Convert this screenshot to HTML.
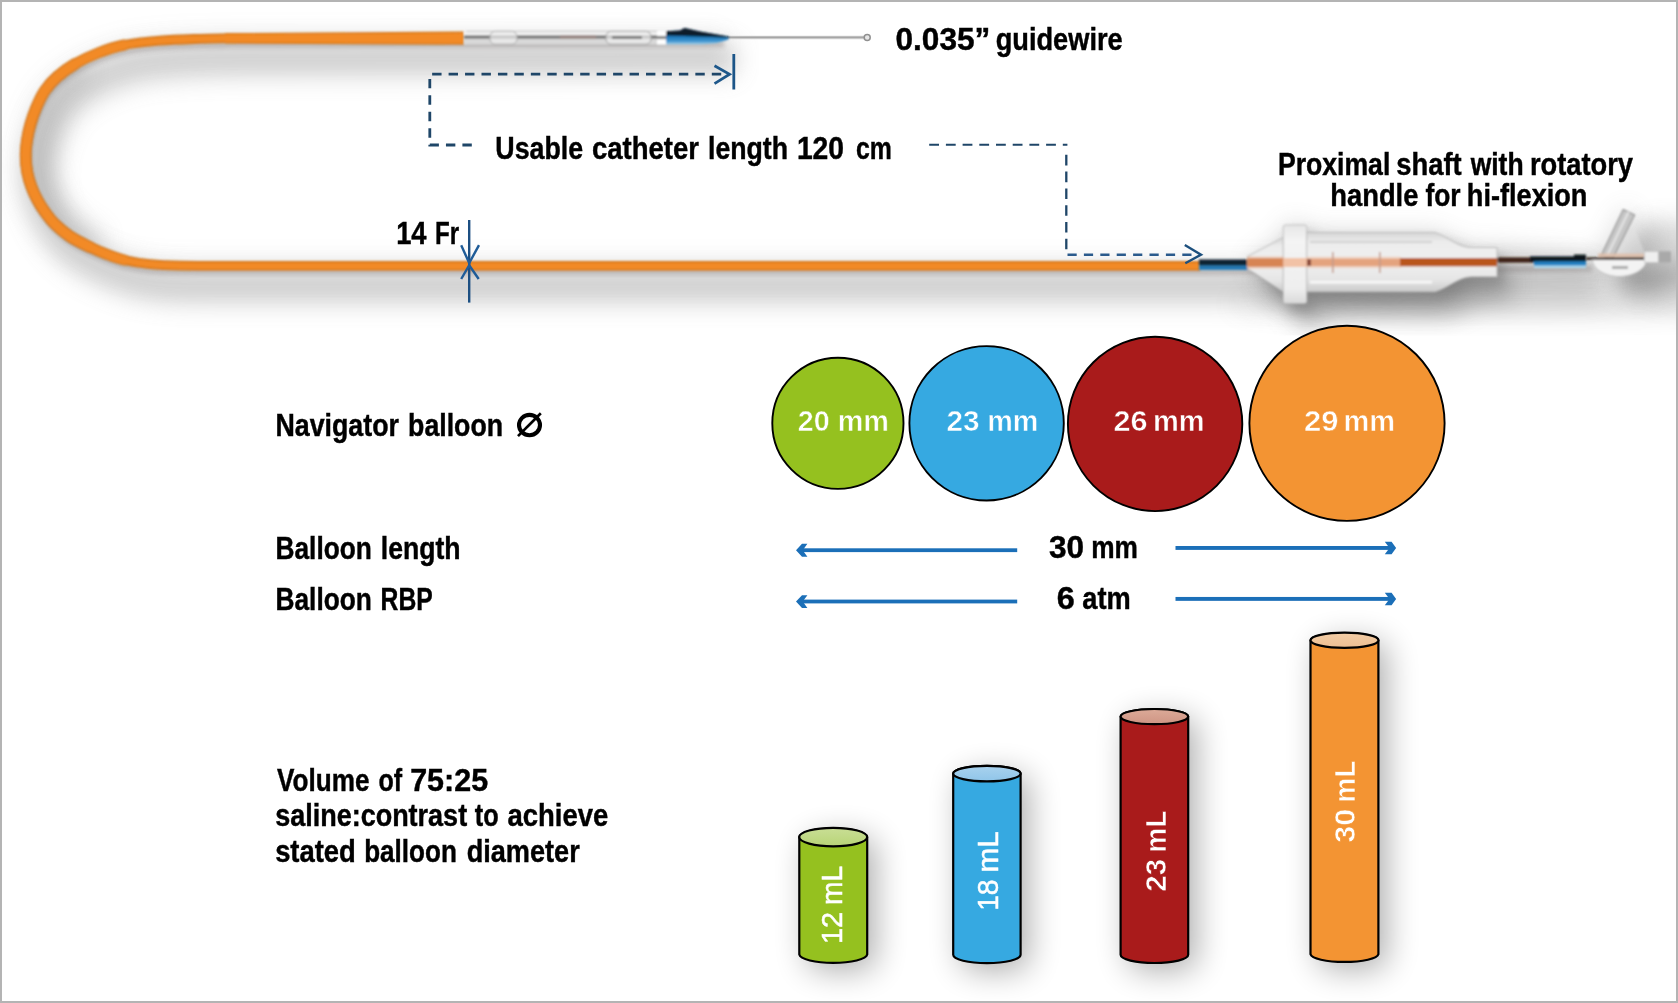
<!DOCTYPE html>
<html>
<head>
<meta charset="utf-8">
<title>Navigator catheter</title>
<style>
html,body{margin:0;padding:0;background:#fff;}
body{width:1678px;height:1003px;overflow:hidden;font-family:"Liberation Sans",sans-serif;}
svg{display:block;position:absolute;left:0;top:0;}
.lbl{font-family:"Liberation Sans",sans-serif;font-weight:bold;font-size:32px;fill:#000;stroke:#000;stroke-width:0.45px;}
.wt{font-family:"Liberation Sans",sans-serif;font-weight:bold;fill:#fff;}
</style>
</head>
<body>
<svg width="1678" height="1003" viewBox="0 0 1678 1003">
<defs>
<filter id="b12" filterUnits="userSpaceOnUse" x="-40" y="-40" width="1780" height="460"><feGaussianBlur stdDeviation="12"/></filter>
<filter id="b8" x="-20%" y="-50%" width="140%" height="200%"><feGaussianBlur stdDeviation="8"/></filter>
<filter id="b5" filterUnits="userSpaceOnUse" x="-40" y="-40" width="1780" height="460"><feGaussianBlur stdDeviation="6"/></filter>
<filter id="b13" x="-120%" y="-50%" width="340%" height="200%"><feGaussianBlur stdDeviation="16"/></filter>
<filter id="b1" filterUnits="userSpaceOnUse" x="0" y="0" width="1678" height="340"><feGaussianBlur stdDeviation="0.8"/></filter>
<filter id="b2" filterUnits="userSpaceOnUse" x="0" y="0" width="1678" height="340"><feGaussianBlur stdDeviation="2.2"/></filter>
<linearGradient id="cg0" x1="0" y1="0" x2="0" y2="1"><stop offset="0" stop-color="#c9de95"/><stop offset="1" stop-color="#b8d477"/></linearGradient>
<linearGradient id="cg1" x1="0" y1="0" x2="0" y2="1"><stop offset="0" stop-color="#a9d2ee"/><stop offset="1" stop-color="#8fc5e9"/></linearGradient>
<linearGradient id="cg2" x1="0" y1="0" x2="0" y2="1"><stop offset="0" stop-color="#dcaa98"/><stop offset="1" stop-color="#cf9584"/></linearGradient>
<linearGradient id="cg3" x1="0" y1="0" x2="0" y2="1"><stop offset="0" stop-color="#f3cda6"/><stop offset="1" stop-color="#edbf92"/></linearGradient>
<linearGradient id="tipg" x1="0" y1="0" x2="0" y2="1"><stop offset="0" stop-color="#0f3a5c"/><stop offset="0.5" stop-color="#1a74b6"/><stop offset="0.8" stop-color="#3c94cf"/><stop offset="1" stop-color="#9fcfea"/></linearGradient>
<linearGradient id="bodyg" x1="0" y1="0" x2="0" y2="1"><stop offset="0" stop-color="#d6d6d6"/><stop offset="0.16" stop-color="#ececec"/><stop offset="0.5" stop-color="#f0f0f0"/><stop offset="0.8" stop-color="#e5e5e5"/><stop offset="1" stop-color="#cbcbcb"/></linearGradient>
<linearGradient id="bodyg2" x1="0" y1="0" x2="0" y2="1"><stop offset="0" stop-color="#e6e6e6"/><stop offset="0.2" stop-color="#f4f4f4"/><stop offset="0.8" stop-color="#efefef"/><stop offset="1" stop-color="#dadada"/></linearGradient>
</defs>
<rect x="0" y="0" width="1678" height="1003" fill="#fff"/>

<!-- ===== photo shadows ===== -->
<g id="shadows">
<clipPath id="photoclip"><rect x="2" y="2" width="1674" height="333.6"/></clipPath>
<g clip-path="url(#photoclip)">
<path d="M722 37.8L230.0 38.3C225.0 38.4 211.7 38.4 200.0 38.8C188.3 39.2 172.6 39.6 160.0 40.6C147.4 41.6 134.5 42.9 124.2 45.0C113.9 47.1 106.2 49.8 98.0 53.0C89.8 56.2 81.6 60.1 74.8 64.1C68.0 68.1 62.0 72.6 57.0 77.0C52.0 81.4 48.4 85.5 45.0 90.5C41.6 95.5 38.9 101.4 36.5 107.0C34.1 112.6 32.1 118.5 30.5 124.0C28.9 129.5 27.8 134.8 27.0 140.0C26.2 145.2 25.7 149.7 25.7 155.0C25.7 160.3 26.2 166.7 27.2 172.0C28.2 177.3 29.8 182.4 31.5 187.0C33.2 191.6 35.1 195.6 37.4 199.8C39.6 204.0 42.1 208.0 45.0 212.0C47.9 216.0 50.4 219.7 54.6 223.8C58.8 227.9 64.1 232.6 70.0 236.5C75.9 240.4 83.8 244.1 89.8 247.0C95.8 249.9 100.3 251.8 106.0 254.0C111.7 256.2 116.9 258.3 124.2 260.0C131.5 261.7 140.3 263.3 149.6 264.2C158.9 265.1 169.9 265.1 180.0 265.3C190.1 265.5 205.0 265.4 210.0 265.4L1200 265.4L1590 262" fill="none" stroke="#8c8c8c" stroke-width="26" opacity="0.08" filter="url(#b12)" transform="translate(2,6)"/>
<path d="M722 37.8L230.0 38.3C225.0 38.4 211.7 38.4 200.0 38.8C188.3 39.2 172.6 39.6 160.0 40.6C147.4 41.6 134.5 42.9 124.2 45.0C113.9 47.1 106.2 49.8 98.0 53.0C89.8 56.2 81.6 60.1 74.8 64.1C68.0 68.1 62.0 72.6 57.0 77.0C52.0 81.4 48.4 85.5 45.0 90.5C41.6 95.5 38.9 101.4 36.5 107.0C34.1 112.6 32.1 118.5 30.5 124.0C28.9 129.5 27.8 134.8 27.0 140.0C26.2 145.2 25.7 149.7 25.7 155.0C25.7 160.3 26.2 166.7 27.2 172.0C28.2 177.3 29.8 182.4 31.5 187.0C33.2 191.6 35.1 195.6 37.4 199.8C39.6 204.0 42.1 208.0 45.0 212.0C47.9 216.0 50.4 219.7 54.6 223.8C58.8 227.9 64.1 232.6 70.0 236.5C75.9 240.4 83.8 244.1 89.8 247.0C95.8 249.9 100.3 251.8 106.0 254.0C111.7 256.2 116.9 258.3 124.2 260.0C131.5 261.7 140.3 263.3 149.6 264.2C158.9 265.1 169.9 265.1 180.0 265.3C190.1 265.5 205.0 265.4 210.0 265.4L1200 265.4L1590 262" fill="none" stroke="#8a8a8a" stroke-width="32" opacity="0.4" filter="url(#b12)" transform="translate(13,21)"/>
<path d="M722 37.8L230.0 38.3C225.0 38.4 211.7 38.4 200.0 38.8C188.3 39.2 172.6 39.6 160.0 40.6C147.4 41.6 134.5 42.9 124.2 45.0C113.9 47.1 106.2 49.8 98.0 53.0C89.8 56.2 81.6 60.1 74.8 64.1C68.0 68.1 62.0 72.6 57.0 77.0C52.0 81.4 48.4 85.5 45.0 90.5C41.6 95.5 38.9 101.4 36.5 107.0C34.1 112.6 32.1 118.5 30.5 124.0C28.9 129.5 27.8 134.8 27.0 140.0C26.2 145.2 25.7 149.7 25.7 155.0C25.7 160.3 26.2 166.7 27.2 172.0C28.2 177.3 29.8 182.4 31.5 187.0C33.2 191.6 35.1 195.6 37.4 199.8C39.6 204.0 42.1 208.0 45.0 212.0C47.9 216.0 50.4 219.7 54.6 223.8C58.8 227.9 64.1 232.6 70.0 236.5C75.9 240.4 83.8 244.1 89.8 247.0C95.8 249.9 100.3 251.8 106.0 254.0C111.7 256.2 116.9 258.3 124.2 260.0C131.5 261.7 140.3 263.3 149.6 264.2C158.9 265.1 169.9 265.1 180.0 265.3C190.1 265.5 205.0 265.4 210.0 265.4L1200 265.4L1590 262" fill="none" stroke="#6e6464" stroke-width="6" opacity="0.3" filter="url(#b2)" transform="translate(2,6.5)"/>
<path d="M1247.5 262 L1283.3 237.5 L1283.3 225 L1306.7 225 L1306.7 232.5 L1435 232.5 C1450 238 1458 247.5 1471.7 247.5 L1497 247.5 L1497 276.7 L1471.7 276.7 C1458 277 1450 287 1435 291.7 L1306.7 291.7 L1306.7 303.3 L1283.3 303.3 L1283.3 291.7 Z" fill="#6e6e6e" opacity="0.55" filter="url(#b12)" transform="translate(14,22)"/>
<path d="M1247.5 262 L1283.3 237.5 L1283.3 225 L1306.7 225 L1306.7 232.5 L1435 232.5 C1450 238 1458 247.5 1471.7 247.5 L1497 247.5 L1497 276.7 L1471.7 276.7 C1458 277 1450 287 1435 291.7 L1306.7 291.7 L1306.7 303.3 L1283.3 303.3 L1283.3 291.7 Z" fill="#6e6e6e" opacity="0.4" filter="url(#b5)" transform="translate(6,8)"/>
<path d="M1590 256 L1601 256 L1623.5 208.5 L1635 214 L1618 250 L1671 251 L1671 263 L1647 263 C1646 270 1632 276.5 1619 276.5 C1606 276.5 1593 270 1592 262 Z" fill="#6e6e6e" opacity="0.75" filter="url(#b12)" transform="translate(20,18)"/>
<path d="M1247.5 262 L1283.3 237.5 L1283.3 225 L1306.7 225 L1306.7 232.5 L1435 232.5 C1450 238 1458 247.5 1471.7 247.5 L1497 247.5 L1590 256 L1601 256 L1623.5 208.5 L1635 214 L1618 250 L1671 251 L1671 263 L1647 263 L1619 276.5 L1497 276.7 L1435 291.7 L1306.7 303.3 L1283.3 303.3 Z" fill="#7a7a7a" opacity="0.3" filter="url(#b12)"/>
<clipPath id="loopclip"><path d="M464 37.8L230.0 38.3C225.0 38.4 211.7 38.4 200.0 38.8C188.3 39.2 172.6 39.6 160.0 40.6C147.4 41.6 134.5 42.9 124.2 45.0C113.9 47.1 106.2 49.8 98.0 53.0C89.8 56.2 81.6 60.1 74.8 64.1C68.0 68.1 62.0 72.6 57.0 77.0C52.0 81.4 48.4 85.5 45.0 90.5C41.6 95.5 38.9 101.4 36.5 107.0C34.1 112.6 32.1 118.5 30.5 124.0C28.9 129.5 27.8 134.8 27.0 140.0C26.2 145.2 25.7 149.7 25.7 155.0C25.7 160.3 26.2 166.7 27.2 172.0C28.2 177.3 29.8 182.4 31.5 187.0C33.2 191.6 35.1 195.6 37.4 199.8C39.6 204.0 42.1 208.0 45.0 212.0C47.9 216.0 50.4 219.7 54.6 223.8C58.8 227.9 64.1 232.6 70.0 236.5C75.9 240.4 83.8 244.1 89.8 247.0C95.8 249.9 100.3 251.8 106.0 254.0C111.7 256.2 116.9 258.3 124.2 260.0C131.5 261.7 140.3 263.3 149.6 264.2C158.9 265.1 169.9 265.5 180.0 265.7C190.1 265.9 205.0 265.8 210.0 265.8L464 265.8Z"/></clipPath>
<g clip-path="url(#loopclip)"><path d="M74.8 64.1C68.0 68.1 62.0 72.6 57.0 77.0C52.0 81.4 48.4 85.5 45.0 90.5C41.6 95.5 38.9 101.4 36.5 107.0C34.1 112.6 32.1 118.5 30.5 124.0C28.9 129.5 27.8 134.8 27.0 140.0C26.2 145.2 25.7 149.7 25.7 155.0C25.7 160.3 26.2 166.7 27.2 172.0C28.2 177.3 29.8 182.4 31.5 187.0C33.2 191.6 35.1 195.6 37.4 199.8C39.6 204.0 42.1 208.0 45.0 212.0C47.9 216.0 50.4 219.7 54.6 223.8C58.8 227.9 64.1 232.6 70.0 236.5C75.9 240.4 83.8 244.1 89.8 247.0" fill="none" stroke="#8a8a8a" stroke-width="30" opacity="0.3" filter="url(#b12)" transform="translate(8,0)"/></g>
<ellipse cx="1500" cy="304" rx="270" ry="10" fill="#808080" opacity="0.32" filter="url(#b12)"/>
<rect x="1646" y="222" width="50" height="78" fill="#808080" opacity="0.3" filter="url(#b12)"/>
</g>
</g>

<!-- ===== catheter tube ===== -->
<g id="tube" filter="url(#b1)">
<path d="M464 37.8L230.0 38.3C225.0 38.4 211.7 38.4 200.0 38.8C188.3 39.2 172.6 39.6 160.0 40.6C147.4 41.6 134.5 42.9 124.2 45.0C113.9 47.1 106.2 49.8 98.0 53.0C89.8 56.2 81.6 60.1 74.8 64.1C68.0 68.1 62.0 72.6 57.0 77.0C52.0 81.4 48.4 85.5 45.0 90.5C41.6 95.5 38.9 101.4 36.5 107.0C34.1 112.6 32.1 118.5 30.5 124.0C28.9 129.5 27.8 134.8 27.0 140.0C26.2 145.2 25.7 149.7 25.7 155.0C25.7 160.3 26.2 166.7 27.2 172.0C28.2 177.3 29.8 182.4 31.5 187.0C33.2 191.6 35.1 195.6 37.4 199.8C39.6 204.0 42.1 208.0 45.0 212.0C47.9 216.0 50.4 219.7 54.6 223.8C58.8 227.9 64.1 232.6 70.0 236.5C75.9 240.4 83.8 244.1 89.8 247.0C95.8 249.9 100.3 251.8 106.0 254.0C111.7 256.2 116.9 258.3 124.2 260.0C131.5 261.7 140.3 263.3 149.6 264.2C158.9 265.1 169.9 265.5 180.0 265.7C190.1 265.9 205.0 265.8 210.0 265.8L1200 265.8" fill="none" stroke="#cf7218" stroke-width="9.8"/>
<path d="M124.2 45.0C113.9 47.1 106.2 49.8 98.0 53.0C89.8 56.2 81.6 60.1 74.8 64.1C68.0 68.1 62.0 72.6 57.0 77.0C52.0 81.4 48.4 85.5 45.0 90.5C41.6 95.5 38.9 101.4 36.5 107.0C34.1 112.6 32.1 118.5 30.5 124.0C28.9 129.5 27.8 134.8 27.0 140.0C26.2 145.2 25.7 149.7 25.7 155.0C25.7 160.3 26.2 166.7 27.2 172.0C28.2 177.3 29.8 182.4 31.5 187.0C33.2 191.6 35.1 195.6 37.4 199.8C39.6 204.0 42.1 208.0 45.0 212.0C47.9 216.0 50.4 219.7 54.6 223.8C58.8 227.9 64.1 232.6 70.0 236.5C75.9 240.4 83.8 244.1 89.8 247.0C95.8 249.9 100.3 251.8 106.0 254.0C111.7 256.2 116.9 258.3 124.2 260.0" fill="none" stroke="#d27418" stroke-width="11" stroke-linecap="round"/>
<path d="M74.8 64.1C68.0 68.1 62.0 72.6 57.0 77.0C52.0 81.4 48.4 85.5 45.0 90.5C41.6 95.5 38.9 101.4 36.5 107.0C34.1 112.6 32.1 118.5 30.5 124.0C28.9 129.5 27.8 134.8 27.0 140.0C26.2 145.2 25.7 149.7 25.7 155.0C25.7 160.3 26.2 166.7 27.2 172.0C28.2 177.3 29.8 182.4 31.5 187.0C33.2 191.6 35.1 195.6 37.4 199.8C39.6 204.0 42.1 208.0 45.0 212.0C47.9 216.0 50.4 219.7 54.6 223.8C58.8 227.9 64.1 232.6 70.0 236.5C75.9 240.4 83.8 244.1 89.8 247.0" fill="none" stroke="#cf7016" stroke-width="11.8" stroke-linecap="round"/>
<path d="M464 37.8L230.0 38.3C225.0 38.4 211.7 38.4 200.0 38.8C188.3 39.2 172.6 39.6 160.0 40.6C147.4 41.6 134.5 42.9 124.2 45.0C113.9 47.1 106.2 49.8 98.0 53.0C89.8 56.2 81.6 60.1 74.8 64.1C68.0 68.1 62.0 72.6 57.0 77.0C52.0 81.4 48.4 85.5 45.0 90.5C41.6 95.5 38.9 101.4 36.5 107.0C34.1 112.6 32.1 118.5 30.5 124.0C28.9 129.5 27.8 134.8 27.0 140.0C26.2 145.2 25.7 149.7 25.7 155.0C25.7 160.3 26.2 166.7 27.2 172.0C28.2 177.3 29.8 182.4 31.5 187.0C33.2 191.6 35.1 195.6 37.4 199.8C39.6 204.0 42.1 208.0 45.0 212.0C47.9 216.0 50.4 219.7 54.6 223.8C58.8 227.9 64.1 232.6 70.0 236.5C75.9 240.4 83.8 244.1 89.8 247.0C95.8 249.9 100.3 251.8 106.0 254.0C111.7 256.2 116.9 258.3 124.2 260.0C131.5 261.7 140.3 263.3 149.6 264.2C158.9 265.1 169.9 265.5 180.0 265.7C190.1 265.9 205.0 265.8 210.0 265.8L1200 265.8" fill="none" stroke="#f28a26" stroke-width="6.8"/>
<path d="M124.2 45.0C113.9 47.1 106.2 49.8 98.0 53.0C89.8 56.2 81.6 60.1 74.8 64.1C68.0 68.1 62.0 72.6 57.0 77.0C52.0 81.4 48.4 85.5 45.0 90.5C41.6 95.5 38.9 101.4 36.5 107.0C34.1 112.6 32.1 118.5 30.5 124.0C28.9 129.5 27.8 134.8 27.0 140.0C26.2 145.2 25.7 149.7 25.7 155.0C25.7 160.3 26.2 166.7 27.2 172.0C28.2 177.3 29.8 182.4 31.5 187.0C33.2 191.6 35.1 195.6 37.4 199.8C39.6 204.0 42.1 208.0 45.0 212.0C47.9 216.0 50.4 219.7 54.6 223.8C58.8 227.9 64.1 232.6 70.0 236.5C75.9 240.4 83.8 244.1 89.8 247.0C95.8 249.9 100.3 251.8 106.0 254.0C111.7 256.2 116.9 258.3 124.2 260.0" fill="none" stroke="#f28a26" stroke-width="8.6" stroke-linecap="round"/>
<path d="M74.8 64.1C68.0 68.1 62.0 72.6 57.0 77.0C52.0 81.4 48.4 85.5 45.0 90.5C41.6 95.5 38.9 101.4 36.5 107.0C34.1 112.6 32.1 118.5 30.5 124.0C28.9 129.5 27.8 134.8 27.0 140.0C26.2 145.2 25.7 149.7 25.7 155.0C25.7 160.3 26.2 166.7 27.2 172.0C28.2 177.3 29.8 182.4 31.5 187.0C33.2 191.6 35.1 195.6 37.4 199.8C39.6 204.0 42.1 208.0 45.0 212.0C47.9 216.0 50.4 219.7 54.6 223.8C58.8 227.9 64.1 232.6 70.0 236.5C75.9 240.4 83.8 244.1 89.8 247.0" fill="none" stroke="#f28a26" stroke-width="9.4" stroke-linecap="round"/>
<path d="M225 33.1 L463.6 31.6 L463.6 44.8 L225 43.5 Z" fill="#d27418"/>
<path d="M225 34.3 L463.6 32.9 L463.6 43.5 L225 42.3 Z" fill="#f28a26"/>
</g>

<!-- ===== distal balloon / tip / guidewire ===== -->
<g id="distal">
<line x1="727" y1="37.5" x2="865" y2="37.5" stroke="#d4d4d4" stroke-width="3.4"/>
<line x1="727" y1="37.3" x2="865" y2="37.3" stroke="#a6a6a6" stroke-width="1.7"/>
<circle cx="867.2" cy="37.4" r="3" fill="#e6e6e6" stroke="#909090" stroke-width="1.5"/>
<g filter="url(#b1)">
<rect x="464" y="31.5" width="202" height="6" fill="#f4f4f4"/>
<rect x="466" y="30.9" width="198" height="1.1" fill="#c4c4c4"/>
<rect x="466" y="44" width="198" height="1.2" fill="#b4b4b4"/>
<rect x="464" y="37" width="202" height="7.5" fill="#d9d9d9"/>
<rect x="464" y="35.4" width="202" height="3.2" fill="#666666" opacity="0.9"/>
<rect x="490" y="31.4" width="27" height="12.8" rx="5" fill="#eeeeee" fill-opacity="0.7" stroke="#a9a9a9" stroke-width="1"/>
<rect x="606" y="31.4" width="45" height="12.8" rx="5" fill="#eeeeee" fill-opacity="0.7" stroke="#9c9c9c" stroke-width="1"/>
<rect x="612" y="36.2" width="30" height="2.6" fill="#6d6d6d"/>
<rect x="560" y="35" width="36" height="4" fill="#9f8a84" opacity="0.8"/>
<rect x="657" y="31" width="9" height="5" fill="#ffffff"/>
<rect x="657" y="39.5" width="9" height="5" fill="#ffffff"/>
<path d="M666 31.2 L680 30.6 L684.5 27.9 L700 31.5 L728.5 36.4 L728.5 39.6 L716 43.2 L700 44.4 L666 44.4 Z" fill="url(#tipg)"/>
<path d="M666 31.2 L680 30.6 L684.5 27.9 L700 31.5 L728.5 36.4 L728.5 37.8 L700 36.6 L666 35.6 Z" fill="#0c1d2b"/>
</g>
</g>

<!-- ===== proximal shaft + handle ===== -->
<g id="handle" filter="url(#b1)">
<!-- dark shaft between orange tube and handle -->
<rect x="1199" y="259.4" width="49" height="6.4" fill="#0e2233"/>
<rect x="1199" y="265.6" width="49" height="4.4" fill="#2278b4"/>
<!-- shaft between handle and Y connector -->
<rect x="1496" y="257.4" width="42" height="5.2" fill="#3d2015"/>
<rect x="1530" y="256.4" width="56" height="5.4" fill="#0b141b"/>
<rect x="1574" y="254.6" width="12" height="4" fill="#0b141b"/>
<rect x="1534" y="261.4" width="52" height="4.4" fill="#1b7fc2"/>
<rect x="1534" y="265.6" width="52" height="2.4" fill="#a9d8f0"/>
<!-- handle body -->
<path d="M1247.5 256.5 L1283.3 237.5 L1283.3 291.7 L1247.5 268.5 Z" fill="url(#bodyg)" stroke="#bdbdbd" stroke-width="1"/>
<rect x="1283.3" y="225" width="23.4" height="78.3" rx="2" fill="url(#bodyg2)" stroke="#c2c2c2" stroke-width="1"/>
<path d="M1306.7 232.5 L1435 232.5 C1450 238 1458 247.5 1471.7 247.5 L1497 247.5 L1497 276.7 L1471.7 276.7 C1458 277 1450 287 1435 291.7 L1306.7 291.7 Z" fill="url(#bodyg)" stroke="#bdbdbd" stroke-width="1"/>
<rect x="1310" y="241" width="122" height="2" fill="#d2d2d2"/>
<rect x="1310" y="281" width="122" height="2.4" fill="#ffffff" opacity="0.8"/>
<!-- copper inner tube -->
<rect x="1247.5" y="258.2" width="36" height="8.6" fill="#c9682e"/>
<rect x="1247.5" y="256.4" width="36" height="12.4" fill="#e9a77f" opacity="0.45"/>
<rect x="1283.3" y="258" width="24" height="9" fill="#f2c2a6"/>
<rect x="1306.7" y="258.6" width="94" height="7.6" fill="#d98658"/>
<rect x="1306.7" y="256.6" width="94" height="11.6" fill="#efc0a4" opacity="0.5"/>
<rect x="1400" y="258" width="97" height="8.4" fill="#b9561d"/>
<rect x="1332" y="252" width="1.6" height="21" fill="#c39a8a"/>
<rect x="1379" y="252" width="1.6" height="21" fill="#c39a8a"/>
<rect x="1307" y="259" width="4" height="7" fill="#8a4a3a"/>
</g>

<!-- ===== Y connector ===== -->
<g id="ycon" filter="url(#b1)">
<path d="M1592 259 L1647 259 C1646 270 1632 276.5 1619 276.5 C1606 276.5 1593 270 1592 259 Z" fill="#f3f3f3" stroke="#bcbcbc" stroke-width="1"/>
<rect x="1612" y="266" width="16" height="3" fill="#9a9a9a" opacity="0.8"/>
<path d="M1613 256 L1634 226 L1646 256 Z" fill="#e4e4e4" opacity="0.45"/>
<path d="M1601 256 L1623.2 209.5 L1634.6 215 L1612.5 259 Z" fill="#c6c6c6" stroke="#8f8f8f" stroke-width="1.1"/>
<path d="M1607 256 L1628.5 212" stroke="#e4e4e4" stroke-width="2.2" fill="none"/>
<rect x="1644.6" y="251.4" width="14" height="11" fill="#efefef" stroke="#c4c4c4" stroke-width="0.8"/>
<rect x="1658.6" y="251.4" width="12.4" height="11" fill="#a9a9a9"/>
<rect x="1598" y="253.5" width="46" height="3.6" fill="#e2bfa9" opacity="0.85"/>
<rect x="1586" y="257.4" width="58" height="2.4" fill="#2c1c16"/>
</g>

<!-- ===== annotation lines ===== -->
<g id="annot" fill="none" stroke="#1f4668" stroke-width="2.4">
<path d="M471.8 145 L429.8 145 L429.8 74.2 L727 74.2" stroke-dasharray="9.4 7.05" stroke-width="2.8"/>
<path d="M714.5 65.8 L729.6 74.2 L714.5 83.6" stroke="#1d578a" stroke-width="2.7"/>
<line x1="733.8" y1="54" x2="733.8" y2="89.5" stroke="#1c5588" stroke-width="2.8"/>
<path d="M929.2 144.7 H1067.4" stroke-dasharray="9.8 6.9" stroke-width="2.1"/>
<path d="M1066.3 154.8 V249.2" stroke-dasharray="10.6 6.2" stroke-width="2.3"/>
<path d="M1067.5 254.7 H1192" stroke-dasharray="9.2 7.2" stroke="#2a5a8c" stroke-width="2.6"/>
<path d="M1184.8 245 L1201 254.7 L1185.3 263.2" stroke="#1c4f7d" stroke-width="2.4"/>
<!-- 14 Fr arrows -->
<line x1="469.2" y1="220" x2="469.2" y2="302.6" stroke="#1c4f82" stroke-width="2.4"/>
<path d="M461.2 245.2 L469.2 263 L479 245.2" stroke="#1f5c98" stroke-width="2.4"/>
<path d="M461.2 279 L469.2 265.2 L478.7 279" stroke="#1f5c98" stroke-width="2.4"/>
</g>

<!-- ===== labels ===== -->
<g id="labels" class="lbl" opacity="0.999">
<text x="895.48" y="49.7" textLength="94.89" lengthAdjust="spacingAndGlyphs">0.035”</text>
<text x="995.67" y="49.7" textLength="127.01" lengthAdjust="spacingAndGlyphs">guidewire</text>
<text x="495.3" y="159.3" textLength="87.86" lengthAdjust="spacingAndGlyphs">Usable</text>
<text x="591.97" y="159.3" textLength="107.01" lengthAdjust="spacingAndGlyphs">catheter</text>
<text x="708.0" y="159.3" textLength="80.02" lengthAdjust="spacingAndGlyphs">length</text>
<text x="796.89" y="159.3" textLength="47.17" lengthAdjust="spacingAndGlyphs">120</text>
<text x="855.89" y="159.3" textLength="35.86" lengthAdjust="spacingAndGlyphs">cm</text>
<text x="1277.88" y="174.8" textLength="112.43" lengthAdjust="spacingAndGlyphs">Proximal</text>
<text x="1396.32" y="174.8" textLength="65.31" lengthAdjust="spacingAndGlyphs">shaft</text>
<text x="1470.64" y="174.8" textLength="53.0" lengthAdjust="spacingAndGlyphs">with</text>
<text x="1529.88" y="174.8" textLength="103.18" lengthAdjust="spacingAndGlyphs">rotatory</text>
<text x="1330.35" y="206.0" textLength="88.04" lengthAdjust="spacingAndGlyphs">handle</text>
<text x="1425.45" y="206.0" textLength="35.14" lengthAdjust="spacingAndGlyphs">for</text>
<text x="1466.86" y="206.0" textLength="120.57" lengthAdjust="spacingAndGlyphs">hi-flexion</text>
<text x="396.16" y="243.7" textLength="30.37" lengthAdjust="spacingAndGlyphs">14</text>
<text x="434.94" y="243.7" textLength="24.09" lengthAdjust="spacingAndGlyphs">Fr</text>
<text x="275.4" y="435.5" textLength="123.59" lengthAdjust="spacingAndGlyphs">Navigator</text>
<text x="408.09" y="435.5" textLength="94.96" lengthAdjust="spacingAndGlyphs">balloon</text>
<text x="275.48" y="558.7" textLength="96.38" lengthAdjust="spacingAndGlyphs">Balloon</text>
<text x="380.78" y="558.7" textLength="79.81" lengthAdjust="spacingAndGlyphs">length</text>
<text x="275.48" y="609.5" textLength="96.38" lengthAdjust="spacingAndGlyphs">Balloon</text>
<text x="380.59" y="609.5" textLength="52.15" lengthAdjust="spacingAndGlyphs">RBP</text>
<text x="276.97" y="790.8" textLength="92.44" lengthAdjust="spacingAndGlyphs">Volume</text>
<text x="378.39" y="790.8" textLength="23.66" lengthAdjust="spacingAndGlyphs">of</text>
<text x="410.18" y="790.8" textLength="77.96" lengthAdjust="spacingAndGlyphs">75:25</text>
<text x="275.14" y="826.0" textLength="191.99" lengthAdjust="spacingAndGlyphs">saline:contrast</text>
<text x="474.85" y="826.0" textLength="23.88" lengthAdjust="spacingAndGlyphs">to</text>
<text x="507.48" y="826.0" textLength="100.76" lengthAdjust="spacingAndGlyphs">achieve</text>
<text x="275.14" y="862.1" textLength="80.69" lengthAdjust="spacingAndGlyphs">stated</text>
<text x="364.19" y="862.1" textLength="92.61" lengthAdjust="spacingAndGlyphs">balloon</text>
<text x="466.68" y="862.1" textLength="113.05" lengthAdjust="spacingAndGlyphs">diameter</text>
<text x="1049.02" y="558.1" textLength="35.1" lengthAdjust="spacingAndGlyphs">30</text>
<text x="1091.21" y="558.1" textLength="46.66" lengthAdjust="spacingAndGlyphs">mm</text>
<text x="1056.72" y="608.5" textLength="17.98" lengthAdjust="spacingAndGlyphs">6</text>
<text x="1082.35" y="608.5" textLength="48.38" lengthAdjust="spacingAndGlyphs">atm</text>
</g>
<!-- diameter symbol -->
<g id="dia" fill="none" stroke="#000" stroke-width="4.1">
<ellipse cx="529.5" cy="425.1" rx="10.5" ry="10.2"/>
<line x1="518" y1="436.1" x2="540.8" y2="413.3" stroke-width="2.7"/>
</g>

<!-- ===== balloon circles ===== -->
<g id="circles" stroke="#000" stroke-width="1.9">
<circle cx="837.9" cy="423.3" r="65.6" fill="#95c11f"/>
<circle cx="986.6" cy="423.3" r="77.2" fill="#36a9e1"/>
<circle cx="1155.1" cy="423.9" r="87.2" fill="#a91b1b"/>
<circle cx="1347" cy="423.3" r="97.6" fill="#f39433"/>
</g>
<g id="ctext" class="wt" font-size="29" opacity="0.999" stroke-width="0.5">
<text x="797.87" y="431" textLength="31.89" lengthAdjust="spacingAndGlyphs" stroke="#95c11f">20</text>
<text x="837.64" y="431" textLength="51.31" lengthAdjust="spacingAndGlyphs" stroke="#95c11f">mm</text>
<text x="946.51" y="431" textLength="33.09" lengthAdjust="spacingAndGlyphs" stroke="#36a9e1">23</text>
<text x="987.22" y="431" textLength="51.16" lengthAdjust="spacingAndGlyphs" stroke="#36a9e1">mm</text>
<text x="1113.52" y="430.5" textLength="34.07" lengthAdjust="spacingAndGlyphs" stroke="#a91b1b">26</text>
<text x="1152.92" y="430.5" textLength="51.66" lengthAdjust="spacingAndGlyphs" stroke="#a91b1b">mm</text>
<text x="1303.94" y="430.5" textLength="34.51" lengthAdjust="spacingAndGlyphs" stroke="#f39433">29</text>
<text x="1343.39" y="430.5" textLength="51.55" lengthAdjust="spacingAndGlyphs" stroke="#f39433">mm</text>
</g>

<!-- ===== blue arrows ===== -->
<g id="arrows" fill="#1b6fb8" stroke="none">
<rect x="800.5" y="548.30" width="216.7" height="3.8"/><path d="M807.4 543.85L802 543.85L796 550.20L802 556.65L807.4 556.65L802.7 550.20Z"/>
<rect x="1175.5" y="546.00" width="216" height="3.9"/><path d="M1384.8 541.70L1391.6 541.70L1396.1 547.95L1391.6 554.25L1384.8 554.25L1389.5 547.95Z"/>
<rect x="800.5" y="599.60" width="216.7" height="3.8"/><path d="M807.4 595.15L802 595.15L796 601.50L802 607.95L807.4 607.95L802.7 601.50Z"/>
<rect x="1175.5" y="596.95" width="216" height="3.9"/><path d="M1384.8 592.65L1391.6 592.65L1396.1 598.90L1391.6 605.20L1384.8 605.20L1389.5 598.90Z"/>
</g>
<!-- ===== cylinders ===== -->
<g id="cyl">
<path d="M799.3 837.1 L799.3 954.6 A34.0 8.8 0 0 0 867.2 954.6 L867.2 837.1 A34.0 9.3 0 0 0 799.3 837.1 Z" fill="#000" opacity="0.32" filter="url(#b13)" transform="translate(8,8)"/>
<path d="M799.3 837.1 L799.3 954.6 A34.0 8.8 0 0 0 867.2 954.6 L867.2 837.1 A34.0 9.3 0 0 0 799.3 837.1 Z" fill="#95c11f" stroke="#000" stroke-width="2.2" stroke-linejoin="round"/>
<ellipse cx="833.2" cy="837.1" rx="34.0" ry="9.3" fill="url(#cg0)" stroke="#000" stroke-width="2.2"/>
<g class="wt" opacity="0.999" style="font-weight:normal;font-size:29px;stroke:#fff;stroke-width:0.5px" transform="translate(842.0,1000) rotate(-90)"><text x="55.96" y="0" textLength="32.19" lengthAdjust="spacingAndGlyphs">12</text><text x="95.03" y="0" textLength="39.15" lengthAdjust="spacingAndGlyphs">mL</text></g>
<path d="M953.2 773.6 L953.2 954.8 A33.7 8.4 0 0 0 1020.6 954.8 L1020.6 773.6 A33.7 7.8 0 0 0 953.2 773.6 Z" fill="#000" opacity="0.32" filter="url(#b13)" transform="translate(8,8)"/>
<path d="M953.2 773.6 L953.2 954.8 A33.7 8.4 0 0 0 1020.6 954.8 L1020.6 773.6 A33.7 7.8 0 0 0 953.2 773.6 Z" fill="#36a9e1" stroke="#000" stroke-width="2.2" stroke-linejoin="round"/>
<ellipse cx="986.9" cy="773.6" rx="33.7" ry="7.8" fill="url(#cg1)" stroke="#000" stroke-width="2.2"/>
<g class="wt" opacity="0.999" style="font-weight:normal;font-size:29px;stroke:#fff;stroke-width:0.5px" transform="translate(998.0,1000) rotate(-90)"><text x="89.2" y="0" textLength="31.37" lengthAdjust="spacingAndGlyphs">18</text><text x="127.49" y="0" textLength="41.23" lengthAdjust="spacingAndGlyphs">mL</text></g>
<path d="M1120.6 716.6 L1120.6 954.8 A33.8 8.2 0 0 0 1188.2 954.8 L1188.2 716.6 A33.8 7.6 0 0 0 1120.6 716.6 Z" fill="#000" opacity="0.32" filter="url(#b13)" transform="translate(8,8)"/>
<path d="M1120.6 716.6 L1120.6 954.8 A33.8 8.2 0 0 0 1188.2 954.8 L1188.2 716.6 A33.8 7.6 0 0 0 1120.6 716.6 Z" fill="#a91b1b" stroke="#000" stroke-width="2.2" stroke-linejoin="round"/>
<ellipse cx="1154.4" cy="716.6" rx="33.8" ry="7.6" fill="url(#cg2)" stroke="#000" stroke-width="2.2"/>
<g class="wt" opacity="0.999" style="font-weight:bold;font-size:29.3px;stroke:#a91b1b;stroke-width:0.6px" transform="translate(1166.4,1000) rotate(-90)"><text x="108.26" y="0" textLength="32.84" lengthAdjust="spacingAndGlyphs">23</text><text x="147.24" y="0" textLength="42.25" lengthAdjust="spacingAndGlyphs">mL</text></g>
<path d="M1310.5 640.3 L1310.5 954.2 A34.0 8.2 0 0 0 1378.4 954.2 L1378.4 640.3 A34.0 7.6 0 0 0 1310.5 640.3 Z" fill="#000" opacity="0.32" filter="url(#b13)" transform="translate(8,8)"/>
<path d="M1310.5 640.3 L1310.5 954.2 A34.0 8.2 0 0 0 1378.4 954.2 L1378.4 640.3 A34.0 7.6 0 0 0 1310.5 640.3 Z" fill="#f39433" stroke="#000" stroke-width="2.2" stroke-linejoin="round"/>
<ellipse cx="1344.5" cy="640.3" rx="34.0" ry="7.6" fill="url(#cg3)" stroke="#000" stroke-width="2.2"/>
<g class="wt" opacity="0.999" style="font-weight:bold;font-size:29.3px;stroke:#f39433;stroke-width:0.6px" transform="translate(1355.0,1000) rotate(-90)"><text x="157.25" y="0" textLength="33.97" lengthAdjust="spacingAndGlyphs">30</text><text x="197.24" y="0" textLength="42.25" lengthAdjust="spacingAndGlyphs">mL</text></g>
</g>
<!-- frame -->
<rect x="1" y="1" width="1676" height="1001" fill="none" stroke="#b4b4b4" stroke-width="2"/>
</svg>
</body>
</html>
